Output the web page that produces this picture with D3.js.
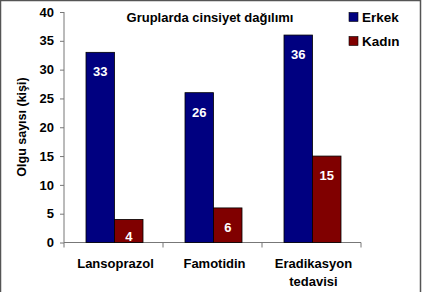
<!DOCTYPE html>
<html><head><meta charset="utf-8">
<script src="https://cdn.jsdelivr.net/npm/d3@7"></script>
<style>body{margin:0;background:#fff}svg{display:block}text{font-family:"Liberation Sans",Arial,sans-serif;font-weight:bold}</style>
</head><body>
<svg id="c" width="425" height="292"></svg>
<script>
const categories = ["Lansoprazol", "Famotidin", "Eradikasyon tedavisi"];
const categoryLines = [["Lansoprazol"], ["Famotidin"], ["Eradikasyon", "tedavisi"]];
const seriesNames = ["Erkek", "Kadın"];
const erkek = [33, 26, 36];
const kadin = [4, 6, 15];
const yTicks = [0, 5, 10, 15, 20, 25, 30, 35, 40];
const colors = ["#000080", "#800000"];

const svg = d3.select("#c");
// outer frame
svg.append("path").attr("d","M0.5,292 V0.5 H420.5 V292").attr("fill","none").attr("stroke","#555").attr("stroke-width",1.5);

const x0 = d3.scaleBand().domain(categories).range([64, 361]).paddingInner(0).paddingOuter(0);
const y = d3.scaleLinear().domain([0, 40]).range([242.5, 12]);
const x1 = d3.scaleBand().domain(seriesNames).range([22, 79]);

// y axis
const ya = svg.append("g").attr("transform","translate(64,0)").call(d3.axisLeft(y).tickValues(yTicks).tickSize(4).tickPadding(6));
ya.select(".domain").attr("stroke","#777").attr("d","M0,12V242.5");
ya.selectAll(".tick line").attr("stroke","#777");
ya.selectAll("text").attr("font-size",13).attr("fill","#000").style("font-family","Liberation Sans, Arial, sans-serif").style("font-weight","bold");

// x axis
const xa = svg.append("g").attr("transform","translate(0,242.5)");
xa.append("line").attr("x1",64).attr("x2",361).attr("stroke","#777");
[64,...categories.map(c=>x0(c)+x0.bandwidth())].forEach(v=>{
  xa.append("line").attr("x1",v).attr("x2",v).attr("y1",0).attr("y2",5).attr("stroke","#777");
});

const data = categories.map((c,i)=>({c, vals:[erkek[i], kadin[i]]}));
const g = svg.append("g");
data.forEach((d,i)=>{
  d.vals.forEach((v,j)=>{
    const bx = x0(d.c) + x1(seriesNames[j]);
    g.append("rect").attr("x",bx).attr("y",y(v)).attr("width",x1.bandwidth()).attr("height",y(0)-y(v))
      .attr("fill",colors[j]).attr("stroke","#000").attr("stroke-width",0.8);
    const ty = Math.min(y(v) + 24, y(0) - 2);
    g.append("text").attr("x",bx + x1.bandwidth()/2).attr("y",ty).attr("text-anchor","middle")
      .attr("font-size",13).attr("fill","#fff").text(v);
  });
  categoryLines[i].forEach((ln,k)=>{
    svg.append("text").attr("x",x0(d.c)+x0.bandwidth()/2 + 2).attr("y",268 + k*18).attr("text-anchor","middle")
      .attr("font-size",13).attr("fill","#000").text(ln);
  });
});

// title
svg.append("text").attr("x",210).attr("y",22).attr("text-anchor","middle").attr("font-size",13).attr("fill","#000").text("Gruplarda cinsiyet dağılımı");

// y label
svg.append("text").attr("transform","translate(26,127) rotate(-90)").attr("text-anchor","middle").attr("font-size",12.5).attr("fill","#000").text("Olgu sayısı (kişi)");

// legend
seriesNames.forEach((s,i)=>{
  const ly = 17 + i*24;
  svg.append("rect").attr("x",349).attr("y",ly-4.5).attr("width",9).attr("height",9).attr("fill",colors[i]).attr("stroke","#000").attr("stroke-width",0.6);
  svg.append("text").attr("x",362).attr("y",ly+5).attr("font-size",13.5).attr("fill","#000").text(s);
});
</script>
</body></html>
